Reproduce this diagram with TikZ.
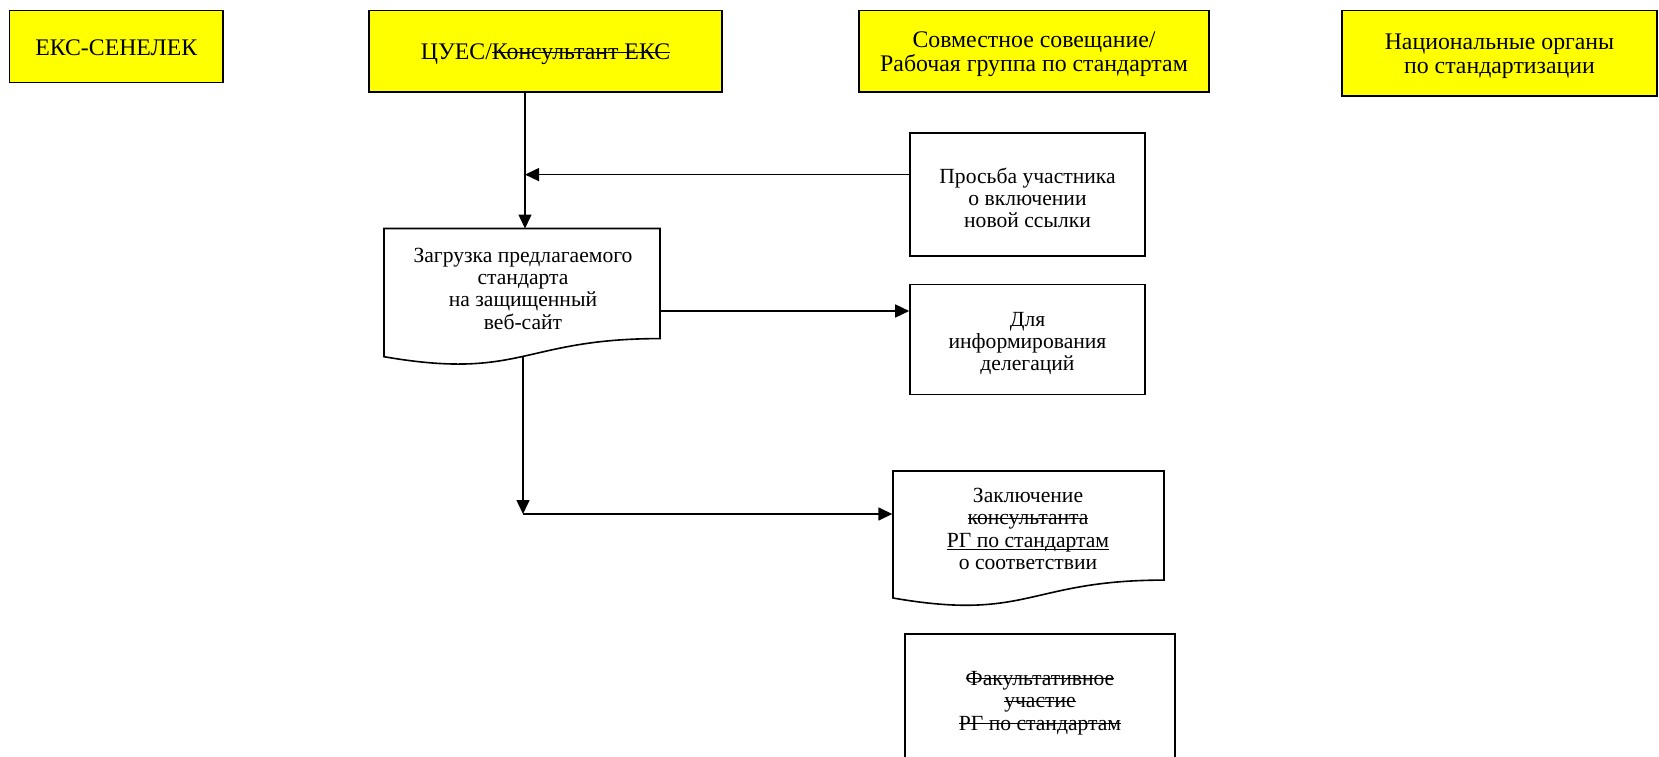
\documentclass[tikz,border=0pt]{standalone}
\usepackage{fontspec}
\setmainfont{Liberation Serif}
\usetikzlibrary{arrows.meta}
\definecolor{hdryellow}{RGB}{255,255,0}
\newsavebox{\mylinebox}
\newcommand{\mystrike}[1]{\sbox{\mylinebox}{#1}\rlap{\rule[0.28em]{\wd\mylinebox}{1.1pt}}\usebox{\mylinebox}}
\newcommand{\myunder}[1]{\sbox{\mylinebox}{#1}\rlap{\rule[-0.12em]{\wd\mylinebox}{1.1pt}}\usebox{\mylinebox}}
\tikzset{
  box/.style={draw, line width=1.6pt},
  lbl/.style={align=center, font=\fontsize{21.6}{22.3}\selectfont, inner sep=0pt},
  hlbl/.style={align=center, font=\fontsize{23.8}{24.5}\selectfont, inner sep=0pt},
  hdr/.style={box, fill=hdryellow},
  proc/.style={box, fill=white},
  txt/.style={lbl},
  arr/.style={line width=1.5pt, -{Triangle[length=14pt,width=13pt]}}
}
\begin{document}
\begin{tikzpicture}[x=1pt,y=-1pt]
\useasboundingbox (0,0) rectangle (1659,757);
% header boxes
\node[hdr, minimum width=213.5pt, minimum height=72pt,
  label={[hlbl,yshift=-1.5pt]center:{ЕКС-СЕНЕЛЕК}}] (eks) at (116.25,46.5) {};
\node[hdr, minimum width=353pt, minimum height=81.4pt,
  label={[hlbl,yshift=-3pt]center:{ЦУЕС/\mystrike{Консультант ЕКС}}}] (tsues) at (545.5,51.3) {};
\node[hdr, minimum width=350pt, minimum height=81.4pt,
  label={[hlbl,yshift=-3pt]center:{Совместное совещание/\\Рабочая группа по стандартам}}] (joint) at (1034,51.3) {};
\node[hdr, minimum width=315pt, minimum height=85.4pt,
  label={[hlbl,yshift=-3pt]center:{Национальные органы\\по стандартизации}}] (nat) at (1499.5,53.3) {};
% process boxes
\node[proc, minimum width=235pt, minimum height=123pt,
  label={[lbl,yshift=-3.5pt]center:{Просьба участника\\о включении\\новой ссылки}}] (req) at (1027.5,194.5) {};
\node[proc, minimum width=235pt, minimum height=110pt,
  label={[lbl,yshift=-4pt]center:{Для\\информирования\\делегаций}}] (info) at (1027.5,339.5) {};
\node[proc, minimum width=270pt, minimum height=134pt,
  label={[lbl,yshift=-2pt]center:{\mystrike{Факультативное}\\\mystrike{участие}\\\mystrike{РГ по стандартам}}}] (fak) at (1040,701) {};
% document shapes
\draw[box, fill=white] (384,228.5) -- (660,228.5) -- (660,338.6)
  .. controls (522,338.6) and (522,380.6) .. (384,356.7) -- cycle;
\node[txt, minimum width=276pt, minimum height=119pt] (load) at (523,288.5) {Загрузка предлагаемого\\стандарта\\на защищенный\\веб-сайт};
\draw[box, fill=white] (893,471) -- (1164,471) -- (1164,580.1)
  .. controls (1028.5,580.1) and (1028.5,621.6) .. (893,598) -- cycle;
\node[txt, minimum width=271pt, minimum height=115pt] (concl) at (1028,529) {Заключение\\\mystrike{консультанта}\\\myunder{РГ по стандартам}\\о соответствии};
% connectors
\coordinate (j0) at (525,228.5);
\coordinate (j1) at (525,174.6);
\coordinate (j2) at (523,514);
\coordinate (j3) at (522,311);
\coordinate (lb) at (523,357);
\draw[arr] (tsues.south -| j0) -- (j0);
\draw[arr] (req.west |- j1) -- (j1);
\draw[arr] (load.east |- j3) -- (info.west |- j3);
\draw[arr] (lb) -- (j2);
\draw[arr] (j2) -- (concl.west |- j2);
\end{tikzpicture}
\end{document}
